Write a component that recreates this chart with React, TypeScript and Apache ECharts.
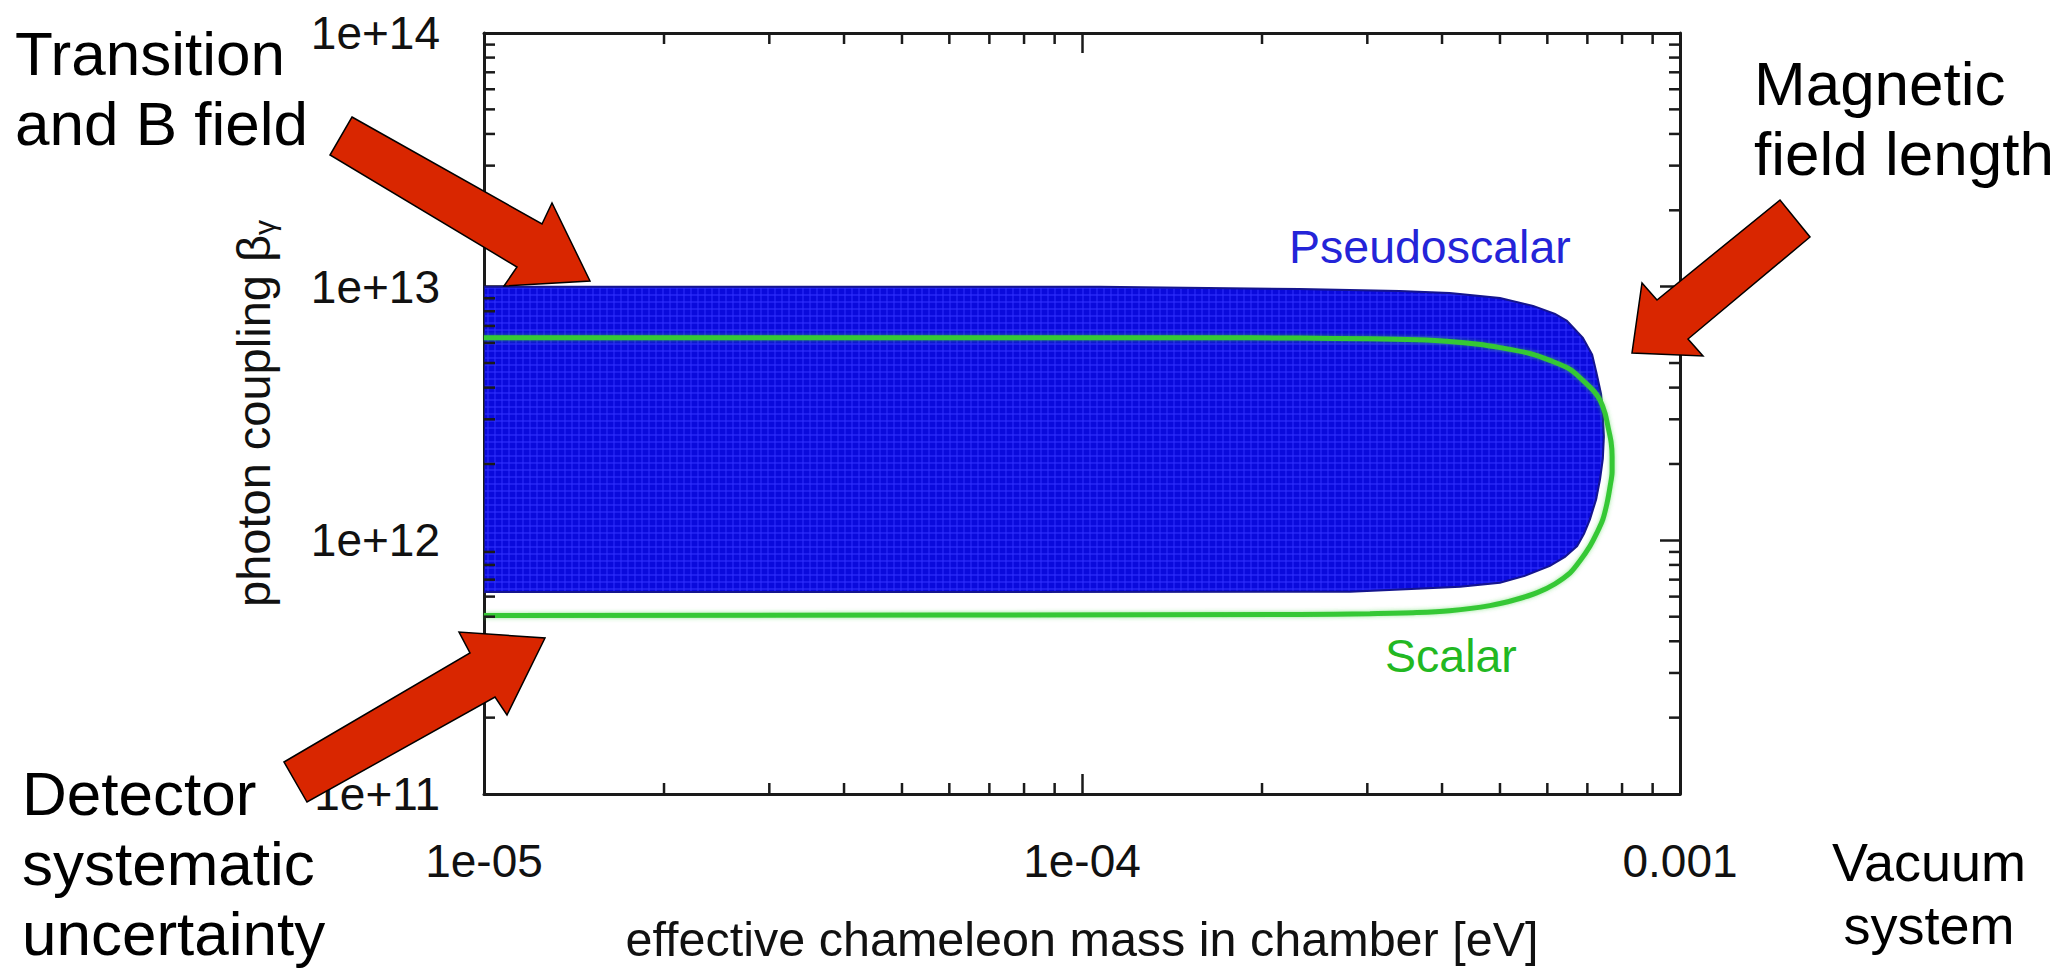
import React, { useEffect, useRef } from 'react';
import * as echarts from 'echarts';

// ---------- data ----------
const X_MIN = 1e-5;
const X_MAX = 1e-3;
const Y_MIN = 1e11;
const Y_MAX = 1e14;

const X_TICK_EXP = [-5, -4, -3];
const X_TICK_LABELS = ['1e-05', '1e-04', '0.001'];
const Y_TICK_EXP = [11, 12, 13, 14];
const Y_TICK_LABELS = ['1e+11', '1e+12', '1e+13', '1e+14'];

const X_MINOR = [
  2e-5, 3e-5, 4e-5, 5e-5, 6e-5, 7e-5, 8e-5, 9e-5,
  2e-4, 3e-4, 4e-4, 5e-4, 6e-4, 7e-4, 8e-4, 9e-4,
];
const Y_MINOR = [
  2e11, 3e11, 4e11, 5e11, 6e11, 7e11, 8e11, 9e11,
  2e12, 3e12, 4e12, 5e12, 6e12, 7e12, 8e12, 9e12,
  2e13, 3e13, 4e13, 5e13, 6e13, 7e13, 8e13, 9e13,
];

// Pseudoscalar excluded region (closed contour)
const PSEUDO_X = [
  1e-5, 1.07e-4, 2.31e-4, 3.40e-4, 4.12e-4, 5.00e-4, 5.68e-4, 6.18e-4, 6.47e-4,
  6.88e-4, 7.13e-4, 7.26e-4, 7.38e-4, 7.43e-4, 7.46e-4, 7.43e-4, 7.35e-4, 7.24e-4,
  7.07e-4, 6.91e-4, 6.73e-4, 6.42e-4, 6.06e-4, 5.50e-4, 5.00e-4, 4.29e-4, 3.63e-4,
  2.81e-4, 1e-5,
];
const PSEUDO_Y = [
  1.0e13, 1.0e13, 9.79e12, 9.61e12, 9.44e12, 9.03e12, 8.40e12, 7.81e12, 7.34e12,
  6.29e12, 5.40e12, 4.51e12, 3.77e12, 3.15e12, 2.56e12, 2.10e12, 1.74e12, 1.45e12,
  1.21e12, 1.06e12, 9.49e11, 8.60e11, 7.93e11, 7.24e11, 6.80e11, 6.56e11, 6.44e11,
  6.27e11, 6.25e11,
];

// Scalar limit contour
const SCALAR_X = [
  1e-5, 1.6e-4, 2.31e-4, 3.03e-4, 3.63e-4, 4.12e-4, 4.60e-4, 5.00e-4, 5.61e-4,
  6.06e-4, 6.55e-4, 6.88e-4, 7.18e-4, 7.35e-4, 7.49e-4, 7.58e-4, 7.67e-4, 7.70e-4,
  7.70e-4, 7.64e-4, 7.55e-4, 7.43e-4, 7.26e-4, 7.07e-4, 6.80e-4, 6.55e-4, 6.18e-4,
  5.77e-4, 5.30e-4, 4.81e-4, 4.12e-4, 3.63e-4, 3.03e-4, 2.31e-4, 1e-5,
];
const SCALAR_Y = [
  6.29e12, 6.29e12, 6.27e12, 6.23e12, 6.17e12, 6.08e12, 5.93e12, 5.75e12, 5.45e12,
  5.12e12, 4.72e12, 4.27e12, 3.87e12, 3.57e12, 3.18e12, 2.80e12, 2.44e12, 2.14e12,
  1.87e12, 1.63e12, 1.40e12, 1.21e12, 1.07e12, 9.49e11, 8.29e11, 7.44e11, 6.74e11,
  6.22e11, 5.83e11, 5.53e11, 5.28e11, 5.19e11, 5.14e11, 5.10e11, 5.05e11,
];

// ---------- styles ----------
const FONT = "'Liberation Sans', Arial, Helvetica, sans-serif";
const AXIS_COLOR = '#1a1a1a';
const LABEL_COLOR = '#111111';
const BLUE_DARK = '#0a0adc';
const BLUE_LIGHT = '#3434ff';
const GREEN = '#35c835';
const RED = '#d92600';
const MAJOR_LEN = 20;
const MINOR_LEN = 11;
const MESH = 7;

function fmtX(v: number) {
  const e = Math.round(Math.log10(v));
  const i = X_TICK_EXP.indexOf(e);
  return i >= 0 ? X_TICK_LABELS[i] : '';
}
function fmtY(v: number) {
  const e = Math.round(Math.log10(v));
  const i = Y_TICK_EXP.indexOf(e);
  return i >= 0 ? Y_TICK_LABELS[i] : '';
}

// intersection span of polygon with a horizontal (axis=1) or vertical (axis=0) line
function span(pts: number[][], c: number, axis: number): number[] | null {
  const hits: number[] = [];
  const n = pts.length;
  const o = 1 - axis;
  for (let i = 0; i < n; i++) {
    const a = pts[i];
    const b = pts[(i + 1) % n];
    const av = a[axis];
    const bv = b[axis];
    if ((av <= c && bv > c) || (bv <= c && av > c)) {
      const t = (c - av) / (bv - av);
      hits.push(a[o] + t * (b[o] - a[o]));
    }
  }
  if (hits.length < 2) return null;
  return [Math.min(...hits), Math.max(...hits)];
}

function arrow(points: number[][]) {
  return {
    type: 'polygon',
    z: 100,
    shape: { points },
    style: { fill: RED, stroke: '#000', lineWidth: 1.5 },
  };
}

function label(text: string, x: number, y: number, size: number, color: string, lh: number, align = 'left') {
  return {
    type: 'text',
    z: 100,
    x,
    y,
    style: {
      text,
      fontSize: size,
      fontFamily: FONT,
      fill: color,
      lineHeight: lh,
      align,
      textAlign: align,
      verticalAlign: 'top',
      textVerticalAlign: 'top',
    },
  };
}

export default function App() {
  const ref = useRef<HTMLDivElement>(null);

  useEffect(() => {
    if (!ref.current) return;
    const chart = echarts.init(ref.current, null, { renderer: 'svg' });

    const axisBase: any = {
      type: 'log',
      logBase: 10,
      axisLine: { show: true, onZero: false, lineStyle: { color: AXIS_COLOR, width: 3 } },
      axisTick: { show: true, inside: true, length: MAJOR_LEN, lineStyle: { color: AXIS_COLOR, width: 2.5 } },
      splitLine: { show: false },
      minorTick: { show: false },
    };

    const option: any = {
      animation: false,
      backgroundColor: '#ffffff',
      textStyle: { fontFamily: FONT },
      grid: { left: 484, right: 389, top: 33, bottom: 168, containLabel: false },
      xAxis: [
        {
          ...axisBase,
          position: 'bottom',
          min: X_MIN,
          max: X_MAX,
          axisLabel: { show: true, margin: 44, fontSize: 46, color: LABEL_COLOR, fontFamily: FONT, formatter: fmtX },
          name: 'effective chameleon mass in chamber [eV]',
          nameLocation: 'middle',
          nameGap: 120,
          nameTextStyle: { fontSize: 48.5, color: LABEL_COLOR, fontFamily: FONT },
        },
        {
          ...axisBase,
          position: 'top',
          min: X_MIN,
          max: X_MAX,
          axisLabel: { show: false },
        },
      ],
      yAxis: [
        {
          ...axisBase,
          position: 'left',
          min: Y_MIN,
          max: Y_MAX,
          axisLabel: { show: true, margin: 44, fontSize: 46, color: LABEL_COLOR, fontFamily: FONT, formatter: fmtY },
          name: 'photon coupling β{sub|γ}',
          nameLocation: 'middle',
          nameRotate: 90,
          nameGap: 205,
          nameTextStyle: {
            fontSize: 47,
            color: LABEL_COLOR,
            fontFamily: FONT,
            rich: {
              sub: { fontSize: 30, fontFamily: FONT, color: LABEL_COLOR, padding: [22, 0, 0, 0] },
            },
          },
        },
        {
          ...axisBase,
          position: 'right',
          min: Y_MIN,
          max: Y_MAX,
          axisLabel: { show: false },
        },
      ],
      series: [
        {
          type: 'custom',
          name: 'Pseudoscalar',
          coordinateSystem: 'cartesian2d',
          xAxisIndex: 0,
          yAxisIndex: 0,
          clip: true,
          silent: true,
          z: 2,
          data: PSEUDO_X.map((x, i) => [x, PSEUDO_Y[i]]),
          renderItem: (params: any, api: any) => {
            if (params.dataIndex !== 0) return null;
            const cs = params.coordSys;
            const pts = PSEUDO_X.map((x, i) => api.coord([x, PSEUDO_Y[i]]));
            const children: any[] = [
              { type: 'polygon', shape: { points: pts }, style: { fill: BLUE_DARK } },
            ];
            const meshStyle = { stroke: BLUE_LIGHT, lineWidth: 1.3, opacity: 0.7 };
            for (let y = cs.y + 3; y < cs.y + cs.height; y += MESH) {
              const s = span(pts, y, 1);
              if (s) children.push({ type: 'line', shape: { x1: s[0] + 1, y1: y, x2: s[1] - 1, y2: y }, style: meshStyle });
            }
            for (let x = cs.x + 4; x < cs.x + cs.width; x += MESH) {
              const s = span(pts, x, 0);
              if (s) children.push({ type: 'line', shape: { x1: x, y1: s[0] + 1, x2: x, y2: s[1] - 1 }, style: meshStyle });
            }
            children.push({ type: 'polygon', shape: { points: pts }, style: { fill: 'none', stroke: '#15158e', lineWidth: 2 } });
            return { type: 'group', children };
          },
        },
        {
          type: 'line',
          name: 'Scalar',
          xAxisIndex: 0,
          yAxisIndex: 0,
          data: SCALAR_X.map((x, i) => [x, SCALAR_Y[i]]),
          symbol: 'none',
          showSymbol: false,
          smooth: 0.3,
          silent: true,
          z: 3,
          lineStyle: { color: GREEN, width: 5, shadowColor: 'rgba(60,210,60,0.55)', shadowBlur: 4 },
        },
        {
          type: 'custom',
          name: 'xMinorTicks',
          coordinateSystem: 'cartesian2d',
          xAxisIndex: 0,
          yAxisIndex: 0,
          clip: false,
          silent: true,
          z: 4,
          data: X_MINOR.map((v) => [v, Y_MIN]),
          renderItem: (params: any, api: any) => {
            const cs = params.coordSys;
            const p = api.coord([api.value(0), Y_MIN]);
            const st = { stroke: AXIS_COLOR, lineWidth: 2.5 };
            return {
              type: 'group',
              children: [
                { type: 'line', shape: { x1: p[0], y1: cs.y + cs.height, x2: p[0], y2: cs.y + cs.height - MINOR_LEN }, style: st },
                { type: 'line', shape: { x1: p[0], y1: cs.y, x2: p[0], y2: cs.y + MINOR_LEN }, style: st },
              ],
            };
          },
        },
        {
          type: 'custom',
          name: 'yMinorTicks',
          coordinateSystem: 'cartesian2d',
          xAxisIndex: 0,
          yAxisIndex: 0,
          clip: false,
          silent: true,
          z: 4,
          data: Y_MINOR.map((v) => [X_MIN, v]),
          renderItem: (params: any, api: any) => {
            const cs = params.coordSys;
            const p = api.coord([X_MIN, api.value(1)]);
            const st = { stroke: AXIS_COLOR, lineWidth: 2.5 };
            return {
              type: 'group',
              children: [
                { type: 'line', shape: { x1: cs.x, y1: p[1], x2: cs.x + MINOR_LEN, y2: p[1] }, style: st },
                { type: 'line', shape: { x1: cs.x + cs.width, y1: p[1], x2: cs.x + cs.width - MINOR_LEN, y2: p[1] }, style: st },
              ],
            };
          },
        },
      ],
      graphic: [
        label('Pseudoscalar', 1289, 224, 46.5, '#2424d8', 46),
        label('Scalar', 1385, 633, 46.5, '#22b822', 46),
        label('Transition\nand B field', 15, 18, 62, '#000000', 70),
        label('Magnetic\nfield length', 1754, 48, 62, '#000000', 70),
        label('Detector\nsystematic\nuncertainty', 22, 758, 62, '#000000', 70),
        label('Vacuum\nsystem', 1929, 830, 54, '#000000', 63, 'center'),
        arrow([[352, 117], [542, 224], [552, 203], [590, 281], [504, 286], [517, 267], [330, 155]]),
        arrow([[1780, 200], [1657, 300], [1642, 283], [1632, 353], [1703, 356], [1688, 339], [1810, 237]]),
        arrow([[284, 762], [470, 653], [459, 632], [545, 638], [507, 715], [495, 697], [307, 802]]),
      ],
    };

    chart.setOption(option);
    return () => {
      chart.dispose();
    };
  }, []);

  return (
    <div
      ref={ref}
      style={{ position: 'fixed', left: 0, top: 0, width: 2069, height: 968, background: '#fff' }}
    />
  );
}
